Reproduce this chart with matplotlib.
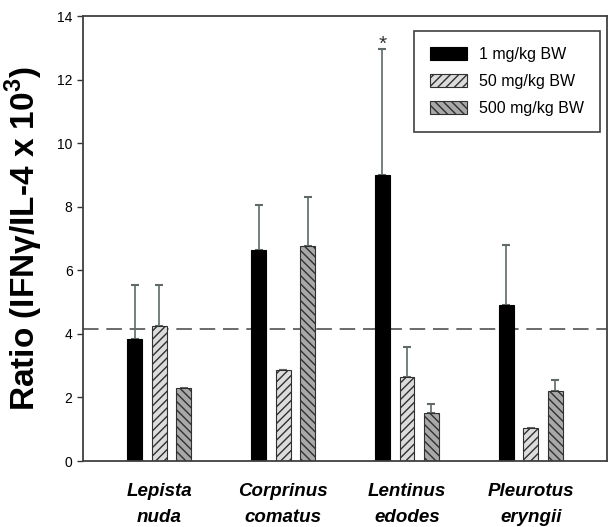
import matplotlib
matplotlib.use('Agg')
import matplotlib.pyplot as plt
import numpy as np

plt.rcParams['font.family'] = ['Liberation Sans', 'DejaVu Sans']
plt.rcParams['mathtext.fontset'] = 'custom'
plt.rcParams['mathtext.rm'] = 'Liberation Sans'
plt.rcParams['mathtext.bf'] = 'Liberation Sans:bold'
plt.rcParams['hatch.linewidth'] = 1.0

species = ['Lepista\nnuda', 'Corprinus\ncomatus', 'Lentinus\nedodes', 'Pleurotus\neryngii']
doses = ['1 mg/kg BW', '50 mg/kg BW', '500 mg/kg BW']

# bar heights per dose
ratio_1 = [3.85, 6.65, 9.0, 4.9]
ratio_50 = [4.25, 2.85, 2.65, 1.05]
ratio_500 = [2.3, 6.75, 1.5, 2.2]

# top of error bars (nan = none drawn)
top_1 = [5.55, 8.05, 12.95, 6.8]
top_50 = [5.55, 2.87, 3.6, np.nan]
top_500 = [np.nan, 8.3, 1.8, 2.55]

baseline = 4.15

fig = plt.figure(figsize=(6.08, 5.27), dpi=100)
ax = fig.add_axes([0.1365, 0.1252, 0.862, 0.8444])

x = np.arange(len(species))
w = 0.12
off = 0.198
styles = [
    dict(color='black', edgecolor='black', hatch=None),
    dict(color='#dcdcdc', edgecolor='#303030', hatch='////'),
    dict(color='#a8a8a8', edgecolor='#303030', hatch='\\\\\\\\'),
]
vals = [ratio_1, ratio_50, ratio_500]
tops = [top_1, top_50, top_500]

for i in range(3):
    xs = x + (i - 1) * off
    ax.bar(xs, vals[i], width=w, linewidth=0.8, label=doses[i], zorder=2, **styles[i])
    err = np.array(tops[i]) - np.array(vals[i])
    ax.errorbar(xs, vals[i], yerr=[np.zeros(len(err)), err], fmt='none',
                ecolor='#5f6a6a', elinewidth=1.2, capsize=3, capthick=1.5, zorder=1)

ax.axhline(baseline, color='#6a6a6a', linestyle=(0, (8, 4)), linewidth=1.4, zorder=0)

ax.text(x[2] - off, top_1[2] - 0.02, '*', ha='center', va='baseline', fontsize=15, color='#333333')

ax.set_xlim(-0.617, 3.617)
ax.set_ylim(0, 14)
ax.set_yticks(np.arange(0, 15, 2))
ax.set_xticks(x)
ax.set_xticklabels(species, fontstyle='italic', fontweight='bold', fontsize=13.5,
                   linespacing=1.7, ha='center')
ax.tick_params(axis='x', length=0, pad=16)
ax.tick_params(axis='y', length=4, width=1, direction='out', labelsize=10, colors='#333333')
ax.tick_params(axis='y', labelcolor='black')

for s in ax.spines.values():
    s.set_color('#404040')
    s.set_linewidth(1.3)

ax.set_ylabel('Ratio (IFNγ/IL-4 x 10$^{\\mathbf{3}}$)', fontsize=24, fontweight='bold', labelpad=9)

leg = ax.legend(loc='upper right', bbox_to_anchor=(0.987, 0.966), fontsize=11.5,
                fancybox=False, edgecolor='#404040', framealpha=1,
                handlelength=2.3, handleheight=0.8, handletextpad=0.8,
                borderpad=1.0, labelspacing=0.75, borderaxespad=0)
leg.get_frame().set_linewidth(1.2)

fig.savefig('out.png', dpi=100)
